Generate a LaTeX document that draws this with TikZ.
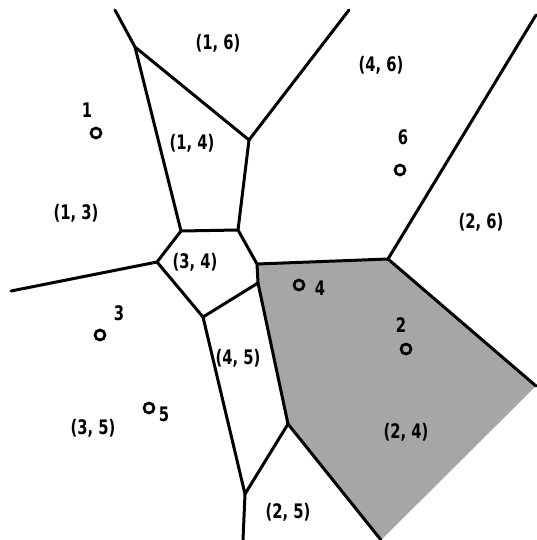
\documentclass[tikz,border=0pt]{standalone}
\usepackage{fontspec}
\setmainfont{DejaVu Sans Condensed}[BoldFont={DejaVu Sans Condensed Bold}]
\newcommand{\narrowtxt}[1]{\scalebox{0.82}[1]{#1}}
\begin{document}
\begin{tikzpicture}[x=1pt,y=-1pt,
  edge/.style={line width=3pt,line cap=round,line join=round},
  site/.style={circle,draw,line width=2.7pt,minimum size=10pt,inner sep=0pt},
  lab/.style={font=\fontsize{20}{20}\selectfont\bfseries,inner sep=0pt},
  num/.style={font=\fontsize{20}{20}\selectfont\bfseries,inner sep=0pt}]
\useasboundingbox (0,0) rectangle (536,540);
% vertices
\coordinate (A) at (115,10);
\coordinate (B) at (135,47);
\coordinate (C) at (249,140);
\coordinate (T) at (349,10);
\coordinate (D) at (238,230);
\coordinate (E) at (181,231);
\coordinate (F) at (157,262);
\coordinate (W) at (11,291);
\coordinate (G) at (203,317);
\coordinate (H) at (257,264);
\coordinate (J) at (258,283);
\coordinate (I) at (288,424);
\coordinate (M) at (245,494);
\coordinate (Mb) at (243,540);
\coordinate (K) at (388,259);
\coordinate (R) at (536,15);
\coordinate (S) at (536,386);
\coordinate (Ib) at (381,540);
% shaded region
\fill[black!35] (H) -- (K) -- (S) -- (Ib) -- (I) -- (J) -- cycle;
% edges
\draw[edge] (A) -- (B) -- (C) -- (T);
\draw[edge] (B) -- (E) -- (D) -- (C);
\draw[edge] (E) -- (F) -- (W);
\draw[edge] (F) -- (G) -- (J);
\draw[edge] (D) -- (H) -- (J) -- (I) -- (Ib);
\draw[edge] (G) -- (M) -- (I);
\draw[edge] (M) -- (Mb);
\draw[edge] (H) -- (K) -- (R);
\draw[edge] (K) -- (S);
% sites
\node[site] (p1) at (96,133) {};
\node[site] (p6) at (400,170) {};
\node[site] (p3) at (100,335) {};
\node[site] (p5) at (149,408) {};
\node[site] (p4) at (299,285) {};
\node[site] (p2) at (406,349) {};
\node[num] (n1) at (87,110) {\narrowtxt{1}};
\node[num] (n6) at (403,137) {\narrowtxt{6}};
\node[num] (n3) at (119,313) {\narrowtxt{3}};
\node[num] (n5) at (164,414) {\narrowtxt{5}};
\node[num] (n4) at (320,288) {\narrowtxt{4}};
\node[num] (n2) at (401,325) {\narrowtxt{2}};
% region labels
\node[lab] (l16) at (218,43) {\narrowtxt{(1, 6)}};
\node[lab] (l46) at (381,65) {\narrowtxt{(4, 6)}};
\node[lab] (l14) at (192,143) {\narrowtxt{(1, 4)}};
\node[lab] (l13) at (76,213) {\narrowtxt{(1, 3)}};
\node[lab] (l34) at (195,262) {\narrowtxt{(3, 4)}};
\node[lab] (l26) at (481,222) {\narrowtxt{(2, 6)}};
\node[lab] (l45) at (238,358) {\narrowtxt{(4, 5)}};
\node[lab] (l35) at (93,428) {\narrowtxt{(3, 5)}};
\node[lab] (l24) at (406,432) {\narrowtxt{(2, 4)}};
\node[lab] (l25) at (288,512) {\narrowtxt{(2, 5)}};
\end{tikzpicture}
\end{document}
